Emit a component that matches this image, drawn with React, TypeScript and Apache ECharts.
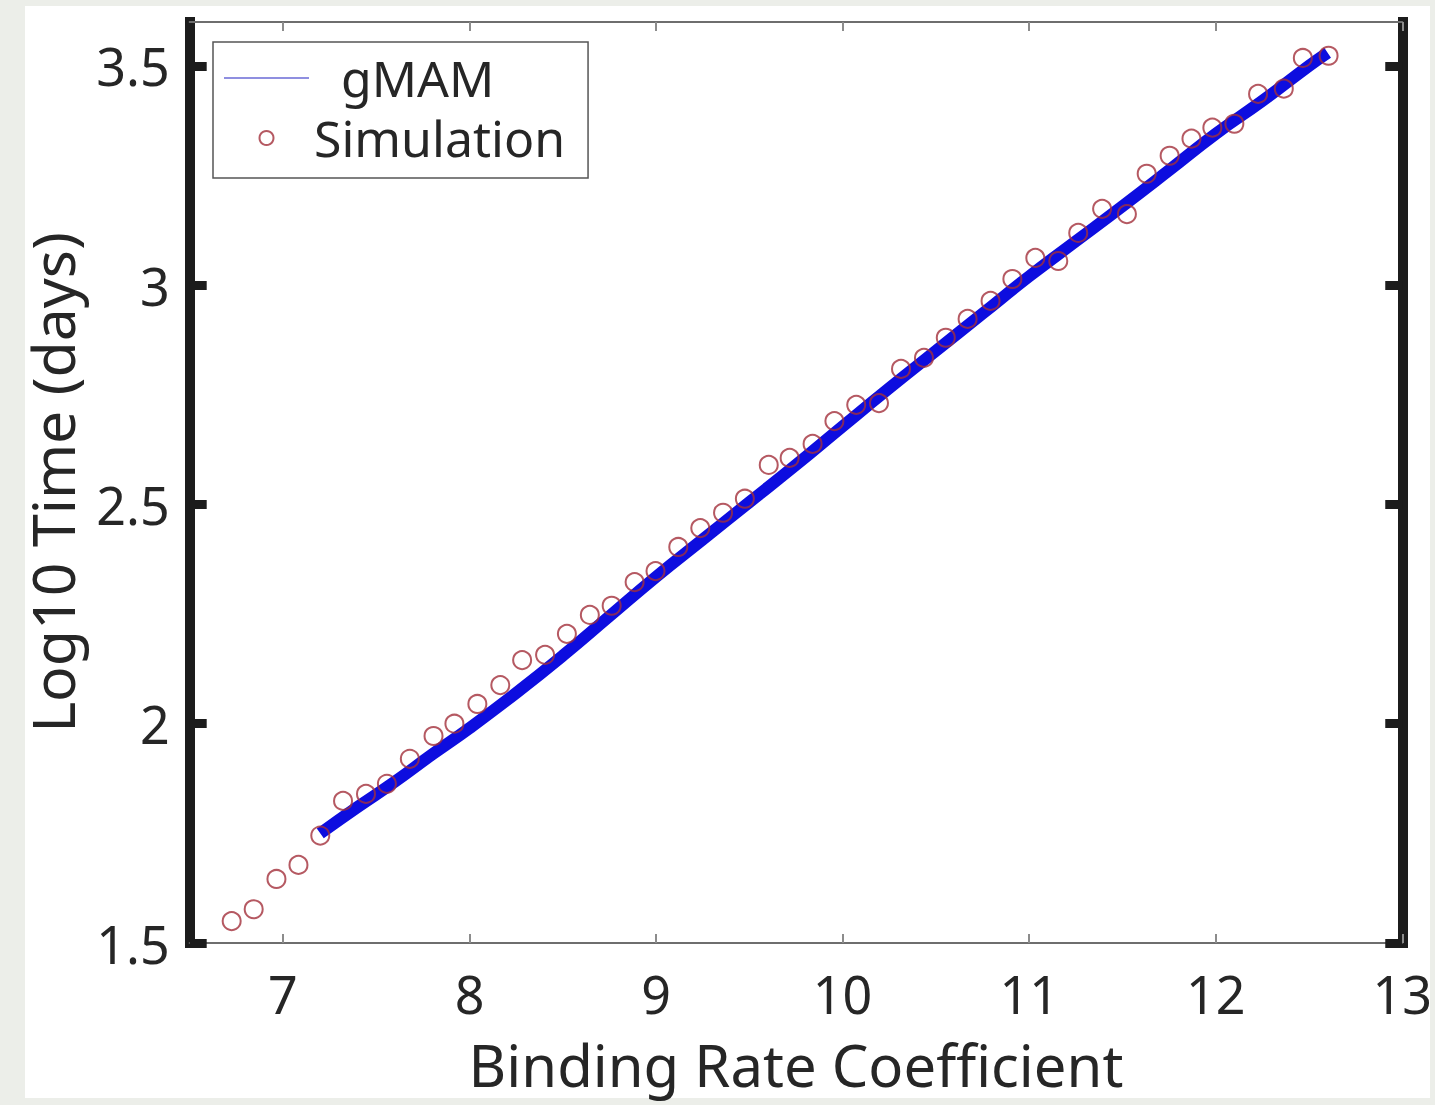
import React, { useEffect, useRef } from "react";
import * as echarts from "echarts";

const FONT = "'Noto Sans', 'Open Sans', sans-serif";

const xTicks = [7, 8, 9, 10, 11, 12, 13];
const yTicks = [1.5, 2, 2.5, 3, 3.5];

const simX = [
  6.725, 6.843, 6.965, 7.083, 7.2, 7.322, 7.445, 7.557, 7.68, 7.807,
  7.919, 8.042, 8.165, 8.282, 8.405, 8.522, 8.645, 8.762, 8.885, 8.997,
  9.119, 9.237, 9.359, 9.476, 9.604, 9.716, 9.839, 9.956, 10.073, 10.195,
  10.313, 10.436, 10.553, 10.67, 10.793, 10.91, 11.033, 11.156, 11.263, 11.391,
  11.524, 11.63, 11.753, 11.87, 11.982, 12.1, 12.227, 12.365, 12.467, 12.605,
];
const simY = [
  1.55, 1.577, 1.646, 1.678, 1.745, 1.824, 1.84, 1.863, 1.92, 1.972,
  2.0, 2.045, 2.088, 2.145, 2.157, 2.205, 2.248, 2.269, 2.323, 2.348,
  2.403, 2.446, 2.481, 2.513, 2.59, 2.606, 2.638, 2.69, 2.727, 2.731,
  2.809, 2.834, 2.88, 2.923, 2.964, 3.014, 3.062, 3.055, 3.119, 3.174,
  3.162, 3.254, 3.295, 3.334, 3.359, 3.368, 3.436, 3.448, 3.518, 3.523,
];

const gmamX = [7.2, 7.4, 7.6, 7.8, 8.0, 8.25, 8.5, 8.75, 9.0, 9.25, 9.5, 9.75, 10.0, 10.25, 10.5, 10.75, 11.0, 11.25, 11.5, 11.75, 12.0, 12.25, 12.5, 12.6];
const gmamY = [1.75, 1.81, 1.868, 1.93, 1.99, 2.07, 2.155, 2.245, 2.335, 2.42, 2.505, 2.59, 2.678, 2.765, 2.85, 2.935, 3.02, 3.1, 3.18, 3.262, 3.345, 3.42, 3.5, 3.53];

export default function App() {
  const ref = useRef<HTMLDivElement>(null);
  useEffect(() => {
    if (!ref.current) return;
    const chart = echarts.init(ref.current, undefined, { renderer: "svg" });
    const thinAxis = {
      axisLine: { show: true, lineStyle: { color: "#6e6e6e", width: 2 } },
      axisTick: { show: true, inside: true, length: 9, customValues: xTicks, lineStyle: { color: "#8c8c8c", width: 2 } },
      splitLine: { show: false },
    };
    const thickAxis = {
      axisLine: { show: true, lineStyle: { color: "#1c1c1c", width: 10, cap: "square" } },
      axisTick: { show: true, inside: true, length: 17, customValues: yTicks, lineStyle: { color: "#1c1c1c", width: 9 } },
      splitLine: { show: false },
    };
    chart.setOption({
      animation: false,
      backgroundColor: "#eceee9",
      graphic: [
        { type: "rect", z: -10, silent: true, shape: { x: 25, y: 6, width: 1405, height: 1092 }, style: { fill: "#ffffff" } },
      ],
      grid: { left: 189.7, right: 25.5, top: 22, bottom: 162 },
      xAxis: [
        {
          type: "value", min: 6.5, max: 13, position: "bottom", ...thinAxis,
          axisLabel: { customValues: xTicks, fontSize: 52, color: "#262626", margin: 24, fontFamily: FONT },
          name: "Binding Rate Coefficient", nameLocation: "middle", nameGap: 92,
          nameTextStyle: { fontSize: 58, color: "#262626", fontFamily: FONT },
        },
        {
          type: "value", min: 6.5, max: 13, position: "top", ...thinAxis,
          axisLabel: { show: false },
        },
      ],
      yAxis: [
        {
          type: "value", min: 1.5, max: 3.6, position: "left", ...thickAxis,
          axisLabel: { customValues: yTicks, fontSize: 52, color: "#262626", margin: 20, fontFamily: FONT },
          name: "Log10 Time (days)", nameLocation: "middle", nameGap: 108,
          nameTextStyle: { fontSize: 59, color: "#262626", fontFamily: FONT },
        },
        {
          type: "value", min: 1.5, max: 3.6, position: "right", ...thickAxis,
          axisLabel: { show: false },
        },
      ],
      legend: {
        orient: "vertical", left: 213, top: 42,
        padding: [11, 23, 15, 11], itemGap: 10, itemWidth: 85, itemHeight: 14,
        backgroundColor: "#ffffff", borderColor: "#555555", borderWidth: 1.5,
        textStyle: { fontSize: 50, lineHeight: 50, color: "#262626", fontFamily: FONT },
        data: [
          {
            name: "gMAM", icon: "path://M0,0 H85 V2 H0 Z",
            itemStyle: { color: "#8f8fe0", borderWidth: 0 },
            textStyle: { padding: [0, 0, 0, 27] },
          },
          { name: "Simulation" },
        ],
      },
      series: [
        {
          name: "gMAM", type: "line", xAxisIndex: 0, yAxisIndex: 0,
          data: gmamX.map((x, i) => [x, gmamY[i]]),
          symbol: "none", smooth: true, z: 2,
          lineStyle: { color: "#0d0ddf", width: 12 },
          itemStyle: { color: "#0d0ddf" },
        },
        {
          name: "Simulation", type: "scatter", xAxisIndex: 0, yAxisIndex: 0,
          data: simX.map((x, i) => [x, simY[i]]),
          symbol: "circle", symbolSize: 18, z: 3,
          itemStyle: { color: "rgba(0,0,0,0)", borderColor: "#a3303b", borderWidth: 2 },
        },
      ],
    });
    return () => chart.dispose();
  }, []);
  return <div ref={ref} style={{ position: "fixed", left: 0, top: 0, width: 1435, height: 1105 }} />;
}
